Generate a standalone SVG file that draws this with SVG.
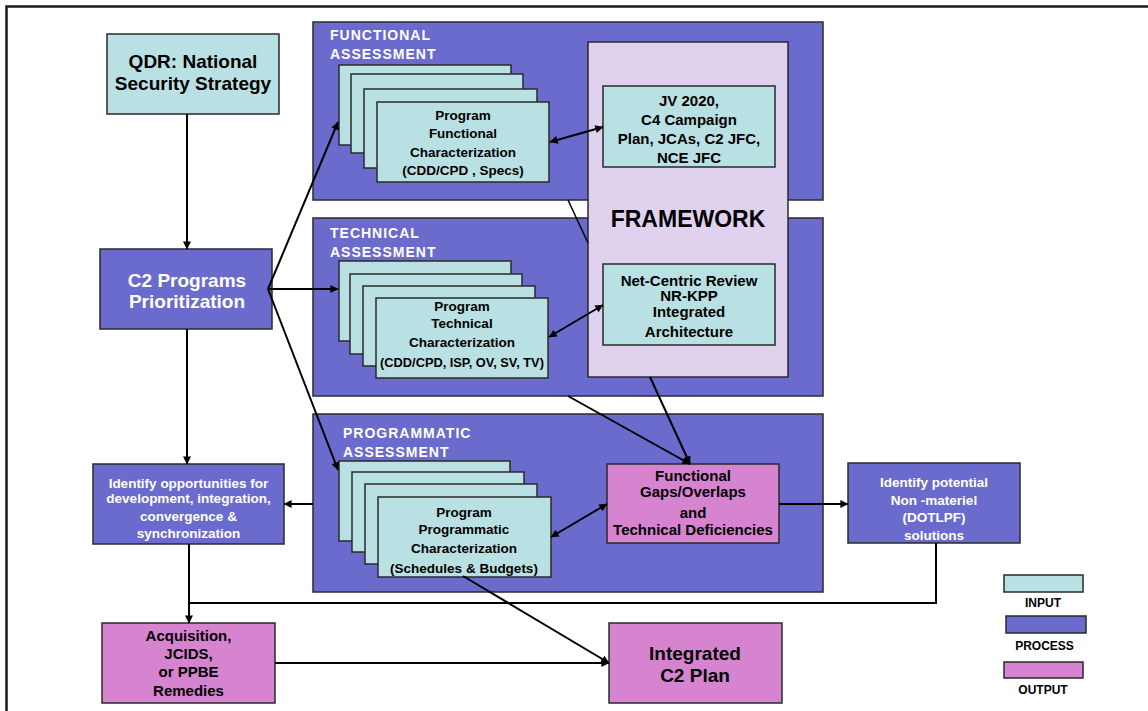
<svg xmlns="http://www.w3.org/2000/svg" width="1148" height="711" viewBox="0 0 1148 711">
<defs>
<style>
.frame{fill:none;stroke:#1a1a1a;stroke-width:2.5}
.proc{fill:#6b6bcd;stroke:#2a2a2a;stroke-width:1.5}
.inp{fill:#b9e0e2;stroke:#2a2a2a;stroke-width:1.5}
.out{fill:#d683d0;stroke:#2a2a2a;stroke-width:1.5}
.fw{fill:#e0d1ef;stroke:#2a2a2a;stroke-width:1.5}
.t{font-family:"Liberation Sans",Arial,sans-serif;font-weight:bold;text-anchor:middle;fill:#000}
.w{fill:#fff}
.big{font-size:19px}
.md{font-size:15px}
.sm{font-size:13.5px}
.lg{font-size:12px}
.ttl{font-family:"Liberation Sans",Arial,sans-serif;font-size:14px;font-weight:bold;letter-spacing:1px;fill:#fff}
.c{fill:none;stroke:#000;stroke-width:2}
.a{marker-end:url(#ah)}
.b{marker-start:url(#ah);marker-end:url(#ah)}
</style>
<marker id="ah" viewBox="0 0 10 10" refX="9.5" refY="5" markerWidth="10" markerHeight="8" markerUnits="userSpaceOnUse" orient="auto-start-reverse">
<path d="M0,0 L10,5 L0,10 z" fill="#000"/>
</marker>
</defs>
<rect width="1148" height="711" fill="#fff"/>
<path class="frame" d="M6.5,711 V6.5 H1148"/>

<g id="qdr">
<rect class="inp" x="107" y="34" width="172" height="80"/>
<text class="t big" x="193" y="68">QDR: National</text>
<text class="t big" x="193" y="90">Security Strategy</text>
</g>

<g id="c2prio">
<rect class="proc" x="100" y="249" width="172" height="80"/>
<text class="t big w" x="187" y="287">C2 Programs</text>
<text class="t big w" x="187" y="308">Prioritization</text>
</g>

<g id="functional-assessment">
<rect class="proc" x="313" y="22" width="510" height="178"/>
<text class="ttl" x="330" y="40">FUNCTIONAL</text>
<text class="ttl" x="330" y="59">ASSESSMENT</text>
</g>

<g id="technical-assessment">
<rect class="proc" x="313" y="218" width="510" height="178"/>
<text class="ttl" x="330" y="238">TECHNICAL</text>
<text class="ttl" x="330" y="257">ASSESSMENT</text>
</g>

<g id="programmatic-assessment">
<rect class="proc" x="313" y="414" width="510" height="178"/>
<text class="ttl" x="343" y="438">PROGRAMMATIC</text>
<text class="ttl" x="343" y="457">ASSESSMENT</text>
</g>

<g id="functional-cards">
<rect class="inp" x="339" y="65" width="172" height="80"/>
<rect class="inp" x="351" y="74" width="172" height="79"/>
<rect class="inp" x="364" y="89" width="173" height="79"/>
<rect class="inp" x="377" y="102" width="172" height="80"/>
<text class="t sm" x="463" y="120">Program</text>
<text class="t sm" x="463" y="138">Functional</text>
<text class="t sm" x="463" y="156.5">Characterization</text>
<text class="t sm" x="463" y="175">(CDD/CPD , Specs)</text>
</g>

<g id="technical-cards">
<rect class="inp" x="339" y="261" width="172" height="80"/>
<rect class="inp" x="350" y="274" width="172" height="80"/>
<rect class="inp" x="363" y="286" width="172" height="80"/>
<rect class="inp" x="376" y="298" width="172" height="80"/>
<text class="t sm" x="462" y="311">Program</text>
<text class="t sm" x="462" y="328">Technical</text>
<text class="t sm" x="462" y="347">Characterization</text>
<text class="t" style="font-size:12.8px" x="462" y="367">(CDD/CPD, ISP, OV, SV, TV)</text>
</g>

<g id="programmatic-cards">
<rect class="inp" x="339" y="461" width="171" height="80"/>
<rect class="inp" x="352" y="472" width="172" height="80"/>
<rect class="inp" x="365" y="484" width="172" height="80"/>
<rect class="inp" x="378" y="497" width="173" height="80"/>
<text class="t sm" x="464" y="517">Program</text>
<text class="t sm" x="464" y="534">Programmatic</text>
<text class="t sm" x="464" y="553">Characterization</text>
<text class="t sm" x="464" y="573">(Schedules &amp; Budgets)</text>
</g>

<g id="framework">
<rect class="fw" x="588" y="42" width="200" height="335"/>
<text class="t" style="font-size:23px" x="688" y="227">FRAMEWORK</text>
</g>

<g id="jv2020">
<rect class="inp" x="603" y="86" width="172" height="81"/>
<text class="t md" x="689" y="105.5">JV 2020,</text>
<text class="t md" x="689" y="124.5">C4 Campaign</text>
<text class="t md" x="689" y="143.5">Plan, JCAs, C2 JFC,</text>
<text class="t md" x="689" y="162.5">NCE JFC</text>
</g>

<g id="netcentric">
<rect class="inp" x="603" y="264" width="172" height="81"/>
<text class="t md" x="689" y="285.5">Net-Centric Review</text>
<text class="t md" x="689" y="300.5">NR-KPP</text>
<text class="t md" x="689" y="317">Integrated</text>
<text class="t md" x="689" y="336.5">Architecture</text>
</g>

<g id="gaps">
<rect class="out" x="607" y="464" width="172" height="79"/>
<text class="t md" x="693" y="480.5">Functional</text>
<text class="t md" x="693" y="496.5">Gaps/Overlaps</text>
<text class="t md" x="693" y="517.5">and</text>
<text class="t md" x="693" y="534.5">Technical Deficiencies</text>
</g>

<g id="nonmateriel">
<rect class="proc" x="848" y="463" width="172" height="80"/>
<text class="t sm w" x="934" y="487">Identify potential</text>
<text class="t sm w" x="934" y="505">Non -materiel</text>
<text class="t sm w" x="934" y="522">(DOTLPF)</text>
<text class="t sm w" x="934" y="540">solutions</text>
</g>

<g id="opportunities">
<rect class="proc" x="93" y="464" width="191" height="80"/>
<text class="t sm w" x="188.5" y="487.5">Identify opportunities for</text>
<text class="t sm w" x="188.5" y="503">development, integration,</text>
<text class="t sm w" x="188.5" y="521">convergence &amp;</text>
<text class="t sm w" x="188.5" y="537.5">synchronization</text>
</g>

<g id="acquisition">
<rect class="out" x="102" y="623" width="173" height="80"/>
<text class="t md" x="188.5" y="640.5">Acquisition,</text>
<text class="t md" x="188.5" y="658.5">JCIDS,</text>
<text class="t md" x="188.5" y="677">or PPBE</text>
<text class="t md" x="188.5" y="696">Remedies</text>
</g>

<g id="integrated">
<rect class="out" x="609" y="623" width="173" height="80"/>
<text class="t big" x="695" y="660">Integrated</text>
<text class="t big" x="695" y="682">C2 Plan</text>
</g>

<g id="legend">
<rect class="inp" x="1004" y="575" width="79" height="17"/>
<text class="t lg" x="1043" y="606.5">INPUT</text>
<rect class="proc" x="1006" y="616" width="80" height="17"/>
<text class="t lg" x="1044.5" y="649.5">PROCESS</text>
<rect class="out" x="1004" y="662" width="79" height="16"/>
<text class="t lg" x="1043" y="693.5">OUTPUT</text>
</g>

<g id="connectors">
<path class="c a" d="M187,114 V249"/>
<path class="c a" d="M268,289 L338,122"/>
<path class="c a" d="M268,289 H338"/>
<path class="c a" d="M268,289 L338,470"/>
<path class="c a" d="M187,329 V464"/>
<path class="c a" d="M313,504 H284"/>
<path class="c a" d="M189,544 V623"/>
<path class="c" d="M936,543 V603 H189"/>
<path class="c a" d="M275,663 H609"/>
<path class="c a" d="M463,576 L609,663"/>
<path class="c a" d="M779,504 H848"/>
<path class="c b" d="M550,142 L603,127"/>
<path class="c b" d="M549,337 L603,305"/>
<path class="c b" d="M551,537 L607,504"/>
<path class="c" style="stroke-width:1.5" d="M568,200 L588,243"/>
<path class="c a" d="M650,377 L690,464"/>
<path class="c a" d="M568,396 L690,464"/>
</g>
</svg>
